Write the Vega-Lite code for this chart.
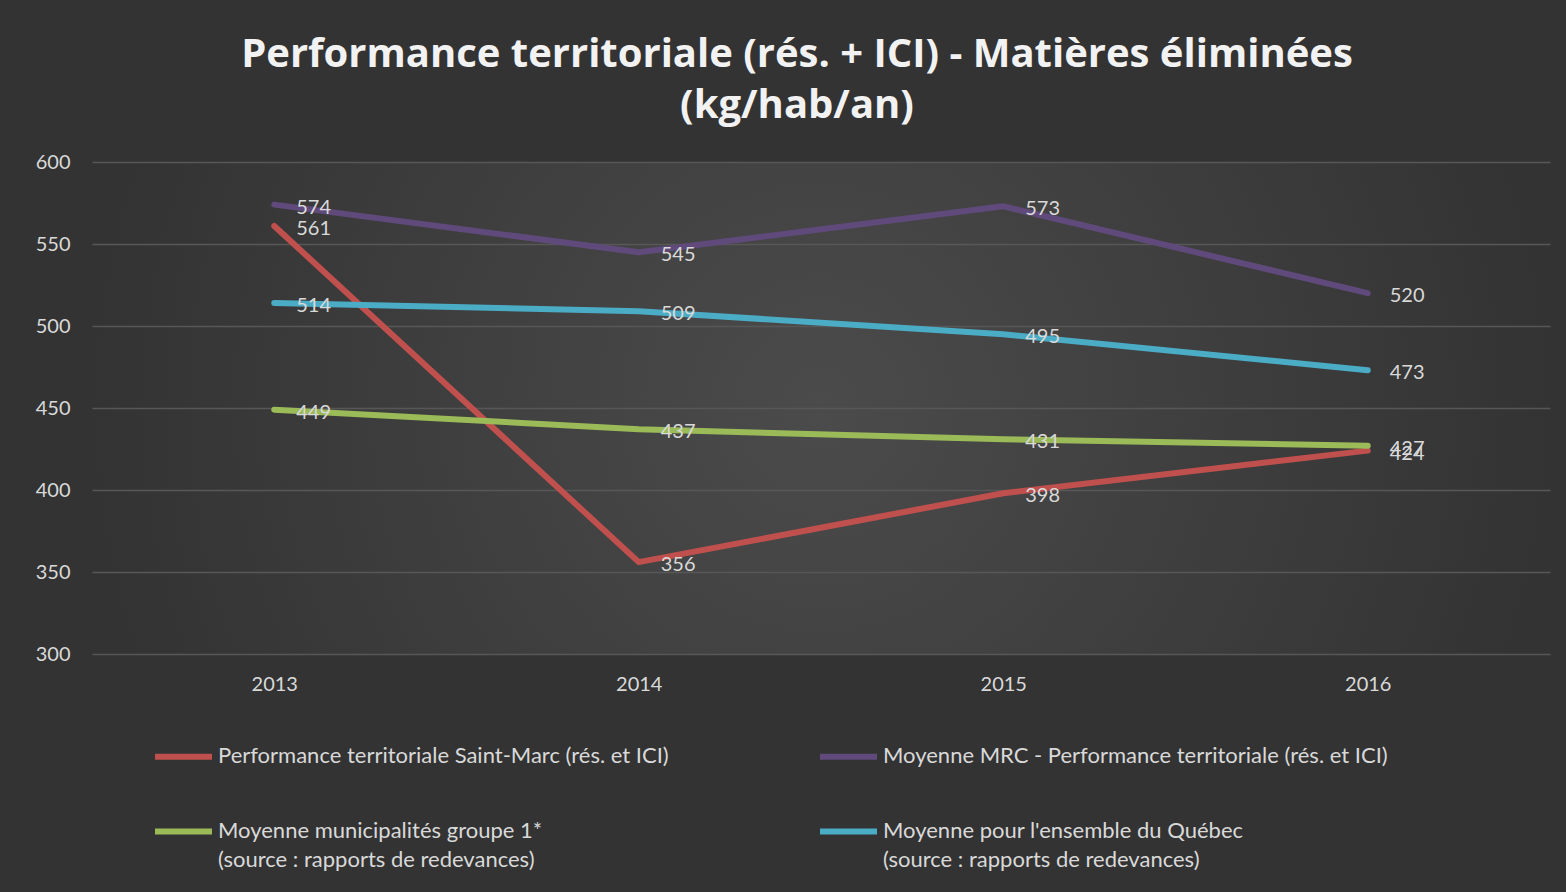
{
  "$schema": "https://vega.github.io/schema/vega-lite/v6.json",
  "width": 1458,
  "height": 492,
  "autosize": {"type": "none"},
  "padding": {"left": 92, "top": 162, "right": 16, "bottom": 238},
  "background": "#333333",
  "title": {
    "text": ["Performance  territoriale  (rés. + ICI) - Matières  éliminées", "(kg/hab/an)"],
    "font": "Open Sans",
    "fontSize": 40,
    "fontWeight": "bold",
    "color": "#f2f2f2",
    "lineHeight": 51,
    "offset": 26,
    "dx": -24,
    "anchor": "middle"
  },
  "config": {
    "view": {
      "stroke": null,
      "fill": {
        "gradient": "radial",
        "x1": 0.5, "y1": 0.5, "r1": 0,
        "x2": 0.5, "y2": 0.5, "r2": 0.5,
        "stops": [
          {"offset": 0, "color": "#4b4b4b"},
          {"offset": 1, "color": "#333333"}
        ]
      }
    }
  },
  "data": {
    "values": [
      {"year": "2013", "series": "Performance territoriale Saint-Marc (rés. et ICI)", "value": 561},
      {"year": "2014", "series": "Performance territoriale Saint-Marc (rés. et ICI)", "value": 356},
      {"year": "2015", "series": "Performance territoriale Saint-Marc (rés. et ICI)", "value": 398},
      {"year": "2016", "series": "Performance territoriale Saint-Marc (rés. et ICI)", "value": 424},
      {"year": "2013", "series": "Moyenne MRC - Performance territoriale (rés. et ICI)", "value": 574},
      {"year": "2014", "series": "Moyenne MRC - Performance territoriale (rés. et ICI)", "value": 545},
      {"year": "2015", "series": "Moyenne MRC - Performance territoriale (rés. et ICI)", "value": 573},
      {"year": "2016", "series": "Moyenne MRC - Performance territoriale (rés. et ICI)", "value": 520},
      {"year": "2013", "series": "Moyenne municipalités groupe 1*|(source : rapports de redevances)", "value": 449},
      {"year": "2014", "series": "Moyenne municipalités groupe 1*|(source : rapports de redevances)", "value": 437},
      {"year": "2015", "series": "Moyenne municipalités groupe 1*|(source : rapports de redevances)", "value": 431},
      {"year": "2016", "series": "Moyenne municipalités groupe 1*|(source : rapports de redevances)", "value": 427},
      {"year": "2013", "series": "Moyenne pour l'ensemble du Québec|(source : rapports de redevances)", "value": 514},
      {"year": "2014", "series": "Moyenne pour l'ensemble du Québec|(source : rapports de redevances)", "value": 509},
      {"year": "2015", "series": "Moyenne pour l'ensemble du Québec|(source : rapports de redevances)", "value": 495},
      {"year": "2016", "series": "Moyenne pour l'ensemble du Québec|(source : rapports de redevances)", "value": 473}
    ]
  },
  "encoding": {
    "x": {
      "field": "year",
      "type": "ordinal",
      "scale": {"type": "point", "padding": 0.5},
      "axis": {
        "title": null,
        "labelAngle": 0,
        "domain": false,
        "ticks": false,
        "labelPadding": 20,
        "labelFont": "Lato",
        "labelFontSize": 20,
        "labelColor": "#d9d9d9"
      }
    },
    "y": {
      "field": "value",
      "type": "quantitative",
      "scale": {"domain": [300, 600], "nice": false, "zero": false},
      "axis": {
        "title": null,
        "values": [300, 350, 400, 450, 500, 550, 600],
        "domain": false,
        "ticks": false,
        "grid": true,
        "gridColor": "#575757",
        "gridWidth": 1.5,
        "labelPadding": 22,
        "labelFont": "Lato",
        "labelFontSize": 20,
        "labelColor": "#d9d9d9"
      }
    }
  },
  "layer": [
    {
      "mark": {"type": "line", "strokeWidth": 6, "strokeCap": "round", "strokeJoin": "round"},
      "encoding": {
        "color": {
          "field": "series",
          "type": "nominal",
          "scale": {
            "domain": [
              "Performance territoriale Saint-Marc (rés. et ICI)",
              "Moyenne municipalités groupe 1*|(source : rapports de redevances)",
              "Moyenne MRC - Performance territoriale (rés. et ICI)",
              "Moyenne pour l'ensemble du Québec|(source : rapports de redevances)"
            ],
            "range": ["#c0504d", "#9bbb59", "#604a7b", "#4bacc6"]
          },
          "legend": {
            "title": null,
            "orient": "none",
            "legendX": 60,
            "legendY": 563,
            "columns": 2,
            "padding": 0,
            "symbolType": "stroke",
            "symbolSize": 3249,
            "symbolStrokeWidth": 6,
            "labelFont": "Lato",
            "labelFontSize": 22,
            "labelColor": "#d9d9d9",
            "labelLimit": 900,
            "labelOffset": 3,
            "labelBaseline": "top",
            "columnPadding": 139,
            "rowPadding": 31,
            "labelExpr": "split(datum.label, '|')",
            "encoding": {
              "labels": {"dy": {"value": -11}, "lineHeight": {"value": 29}}
            }
          }
        }
      }
    },
    {
      "mark": {"type": "text", "align": "left", "baseline": "middle", "dx": 22, "dy": 3, "font": "Lato", "fontSize": 20, "color": "#d9d9d9"},
      "encoding": {
        "text": {"field": "value", "type": "quantitative"}
      }
    }
  ]
}
